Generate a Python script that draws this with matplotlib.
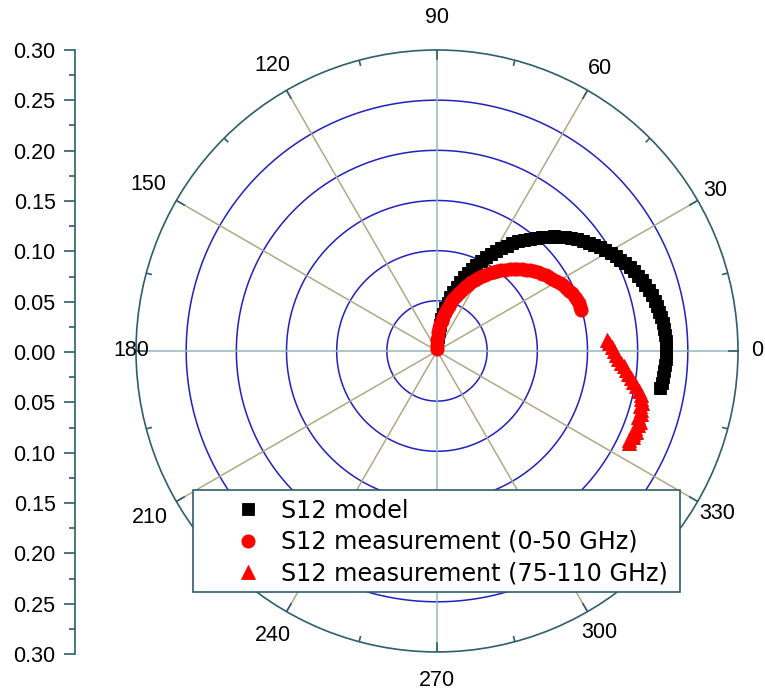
import matplotlib.pyplot as plt
import numpy as np
from matplotlib.patches import Rectangle

# S12 model (angle in degrees, magnitude)
model_theta = [88, 86.5, 85, 83.5, 82, 80.5, 79, 77.5, 76, 74.5, 73, 71.5, 70, 68.5, 67,
               65.5, 64, 62.5, 61, 59.5, 58, 56.5, 55, 53.5, 52, 50.5, 49, 47.5, 46, 44.5,
               43, 41.5, 40, 38.5, 37, 35.5, 34, 32.5, 31, 29.5, 28, 26.5, 25, 23.5, 22,
               20.5, 19, 17.5, 16, 14.5, 13, 11.5, 10, 8.5, 7, 5.5, 4, 2.5, 1, -0.5, -2,
               -3.5, -5, -6.5, -8, -9.5]
model_r = [0.0080, 0.0139, 0.0199, 0.0258, 0.0318, 0.0377, 0.0436, 0.0494, 0.0552, 0.0610,
           0.0668, 0.0724, 0.0781, 0.0837, 0.0892, 0.0947, 0.1001, 0.1054, 0.1107, 0.1159,
           0.1210, 0.1260, 0.1310, 0.1358, 0.1406, 0.1452, 0.1498, 0.1542, 0.1586, 0.1628,
           0.1670, 0.1710, 0.1749, 0.1787, 0.1823, 0.1859, 0.1893, 0.1926, 0.1957, 0.1987,
           0.2016, 0.2043, 0.2069, 0.2094, 0.2117, 0.2138, 0.2159, 0.2177, 0.2195, 0.2210,
           0.2225, 0.2237, 0.2248, 0.2258, 0.2266, 0.2273, 0.2278, 0.2281, 0.2283, 0.2283,
           0.2282, 0.2279, 0.2274, 0.2268, 0.2261, 0.2252]

# S12 measurement 0-50 GHz
meas1_theta = [92, 90.5, 89, 87.5, 86, 84.5, 83, 81.5, 80, 78.5, 77, 75.5, 74, 72.5, 71,
               69.5, 68, 66.5, 65, 63.5, 62, 60.5, 59, 57.5, 56, 54.5, 53, 51.5, 50, 48.5,
               47, 45.5, 44, 42.5, 41, 39.5, 38, 36.5, 35, 33.5, 32, 30.5, 29, 27.5, 26,
               24.5, 23, 21.5, 20, 18.5, 17, 16]
meas1_r = [0.0024, 0.0064, 0.0105, 0.0146, 0.0186, 0.0227, 0.0267, 0.0307, 0.0347, 0.0387,
           0.0426, 0.0465, 0.0504, 0.0542, 0.0580, 0.0618, 0.0655, 0.0692, 0.0728, 0.0766,
           0.0803, 0.0836, 0.0866, 0.0899, 0.0936, 0.0970, 0.0999, 0.1027, 0.1058, 0.1091,
           0.1120, 0.1144, 0.1171, 0.1201, 0.1228, 0.1249, 0.1272, 0.1298, 0.1321, 0.1338,
           0.1357, 0.1382, 0.1401, 0.1414, 0.1430, 0.1450, 0.1466, 0.1478, 0.1487, 0.1493,
           0.1490, 0.1488]

# S12 measurement 75-110 GHz
meas2_theta = [3.7, 2.5, 1.2, 0.0, -1.3, -2.5, -3.6, -4.7, -5.8, -6.8, -7.9, -9.0, -10.0,
               -11.1, -12.2, -13.3, -14.3, -15.2, -16.1, -17.2, -18.2, -19.2, -20.2, -21.2,
               -22.2, -23.0, -23.8, -24.8, -25.7]
meas2_r = [0.170, 0.172, 0.174, 0.176, 0.178, 0.181, 0.184, 0.187, 0.189, 0.192, 0.195,
           0.198, 0.201, 0.205, 0.208, 0.209, 0.211, 0.210, 0.212, 0.213, 0.211, 0.214,
           0.213, 0.212, 0.214, 0.212, 0.213, 0.211, 0.212]

angle_labels = ['0', '30', '60', '90', '120', '150', '180', '210', '240', '270', '300', '330']
label_dist = [0.319, 0.320, 0.325, 0.332, 0.328, 0.332, 0.305, 0.331, 0.328, 0.328, 0.324, 0.323]

dark = '#2E5E6B'
fig = plt.figure(figsize=(7.65, 6.93), dpi=100)
ax = fig.add_axes([0.1778, 0.0592, 0.7869, 0.8687], projection='polar')
ax.set_theta_zero_location('E')
ax.set_ylim(0, 0.3)
ax.grid(False)
ax.set_xticks([])
ax.set_yticks([])
ax.spines['polar'].set_color(dark)
ax.spines['polar'].set_linewidth(1.2)

circ = np.linspace(0, 2 * np.pi, 721)
for rr in [0.05, 0.10, 0.15, 0.20, 0.25]:
    ax.plot(circ, np.full_like(circ, rr), color='#2020C0', lw=1.1, zorder=1)
for a in range(0, 360, 30):
    col = '#93B6BE' if a % 90 == 0 else '#ADAA86'
    ax.plot([np.deg2rad(a)] * 2, [0, 0.3], color=col, lw=1.1, zorder=1)
for a in range(0, 360, 15):
    ln = 0.009 if a % 30 == 0 else 0.005
    ax.plot([np.deg2rad(a)] * 2, [0.3 - ln, 0.3], color=dark, lw=1.2, zorder=2)

ax.plot(np.deg2rad(model_theta), model_r, 's', color='black', ms=9.2, mew=0.6,
        label='S12 model', zorder=3)
ax.plot(np.deg2rad(meas1_theta), meas1_r, 'o', color='red', ms=9.5, mew=0.6,
        label='S12 measurement (0-50 GHz)', zorder=4)
ax.plot(np.deg2rad(meas2_theta), meas2_r, '^', color='red', ms=10, mew=0.6,
        label='S12 measurement (75-110 GHz)', zorder=4)

for a, lab, d in zip(range(0, 360, 30), angle_labels, label_dist):
    ax.text(np.deg2rad(a), d, lab, ha='center', va='center', fontsize=15.5,
            family='Liberation Sans', clip_on=False)

# left magnitude axis
ax2 = fig.add_axes([75 / 765, 1 - 654 / 693, 0.0001, 604 / 693])
ax2.patch.set_visible(False)
for s in ['top', 'right', 'bottom']:
    ax2.spines[s].set_visible(False)
ax2.spines['left'].set_color(dark)
ax2.spines['left'].set_linewidth(1.2)
ax2.set_xticks([])
ax2.set_ylim(-0.3, 0.3)
yt = np.round(np.arange(-0.3, 0.301, 0.05), 2)
ax2.set_yticks(yt)
ax2.set_yticklabels(['%.2f' % abs(v) for v in yt], fontsize=15.5, family='Liberation Sans')
ax2.set_yticks(np.round(np.arange(-0.275, 0.3, 0.05), 3), minor=True)
ax2.tick_params(axis='y', which='major', direction='out', length=8, width=1.2,
                color=dark, pad=6)
ax2.tick_params(axis='y', which='minor', direction='out', length=4, width=1.2, color=dark)

# legend box
fig.patches.append(Rectangle((193 / 765, 1 - 592 / 693), 487 / 765, 102 / 693,
                             transform=fig.transFigure, facecolor='white',
                             edgecolor=dark, lw=1.2, zorder=5))
leg = fig.legend(*ax.get_legend_handles_labels(), loc='center left',
                 bbox_to_anchor=(212 / 765, 1 - 542 / 693), frameon=False,
                 borderpad=0, handlelength=2.0, handletextpad=0.4, labelspacing=0.3,
                 prop={'family': 'DejaVu Sans', 'size': 17.2})
leg.set_zorder(6)

fig.savefig('out.png', dpi=100)
